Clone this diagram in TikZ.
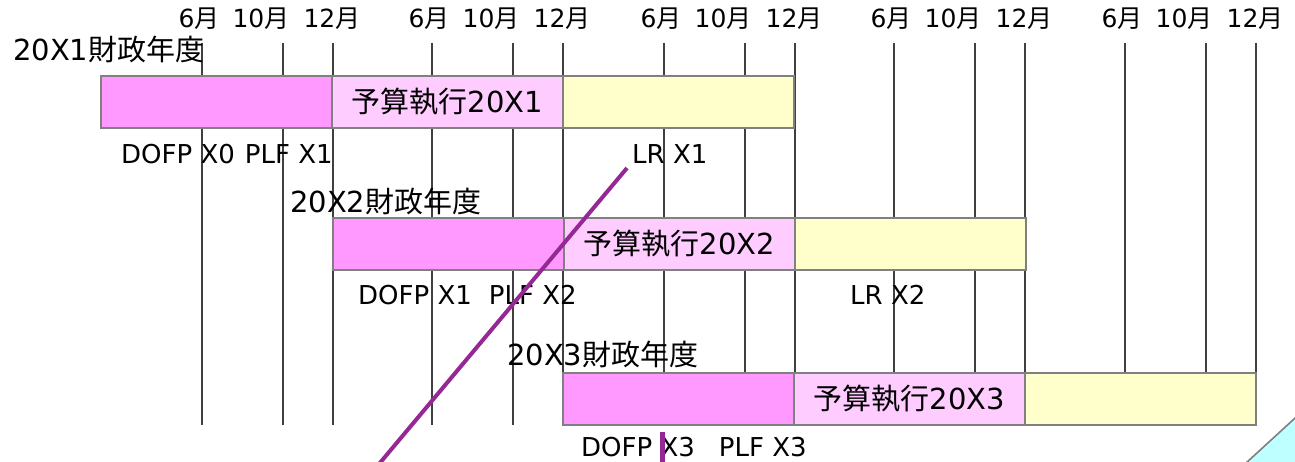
\documentclass[tikz,border=0pt]{standalone}
\usepackage{fontspec}
\setmainfont{DejaVu Sans}
\newfontfamily\jpfont{Noto Sans CJK JP}
\newcommand\jp[1]{{\jpfont #1}}
\usetikzlibrary{positioning}
\definecolor{prepink}{RGB}{255,153,255}
\definecolor{execpink}{RGB}{255,204,255}
\definecolor{lrcream}{RGB}{255,255,204}
\definecolor{cutpurple}{RGB}{150,40,150}
\definecolor{cornercyan}{RGB}{190,255,255}

\begin{document}
\begin{tikzpicture}[x=1pt, y=-1pt,
    gridline/.style={draw=black!75, line width=1.6pt},
    bar/.style={draw=black!50, line width=1.6pt, minimum width=231pt, minimum height=52pt, inner sep=0pt, outer sep=0pt, font=\fontsize{29}{29}\selectfont},
    prep/.style={bar, fill=prepink},
    exec/.style={bar, fill=execpink},
    lr/.style={bar, fill=lrcream},
    month/.style={inner sep=0pt, font=\fontsize{25}{25}\selectfont},
    yearlbl/.style={anchor=west, inner sep=0pt, font=\fontsize{29}{29}\selectfont},
    doclbl/.style={anchor=west, inner sep=0pt, font=\fontsize{26}{26}\selectfont},
    cutline/.style={draw=cutpurple, line width=4pt}]

    \useasboundingbox (0,0) rectangle (1295,462);

    \foreach \e in {333,563,795,1025,1256} {
        \draw[gridline] (\e-131,43) -- (\e-131,425);
        \draw[gridline] (\e-50,43) -- (\e-50,425);
        \draw[gridline] (\e,43) -- (\e,425);
        \node[month] at (\e-134,19) {6\jp{月}};
        \node[month] at (\e-72,19) {10\jp{月}};
        \node[month] at (\e-1,19) {12\jp{月}};
    }

    \node[prep, anchor=north west] (fy1prep) at (101,76) {};
    \node[exec, right=0pt of fy1prep] (fy1exec) {\jp{予算執行}20X1};
    \node[lr, right=0pt of fy1exec] (fy1lr) {};

    \node[prep, anchor=north west] (fy2prep) at (333,218) {};
    \node[exec, right=0pt of fy2prep] (fy2exec) {\jp{予算執行}20X2};
    \node[lr, right=0pt of fy2exec] (fy2lr) {};

    \node[prep, anchor=north west] (fy3prep) at (563,373) {};
    \node[exec, right=0pt of fy3prep] (fy3exec) {\jp{予算執行}20X3};
    \node[lr, right=0pt of fy3exec] (fy3lr) {};

    \node[yearlbl] (fy1) at (13,49) {20X1\jp{財政年度}};
    \node[yearlbl] (fy2) at (290,201) {20X2\jp{財政年度}};
    \node[yearlbl] (fy3) at (507,354) {20X3\jp{財政年度}};

    \node[doclbl] (doc1) at (121,154) {DOFP X0\hspace{10pt}PLF X1};
    \node[doclbl] (lr1) at (632,154) {LR X1};
    \node[doclbl] (doc2) at (358,295) {DOFP X1\hspace{17pt}PLF X2};
    \node[doclbl] (lr2) at (850,295) {LR X2};
    \node[doclbl] (doc3) at (581,447) {DOFP X3\hspace{24pt}PLF X3};

    \coordinate (cut1a) at (627,168);
    \coordinate (cut1b) at (374,470);
    \coordinate (cut2a) at (662,432);
    \coordinate (cut2b) at (662,470);
    \draw[cutline] (cut1a) -- (cut1b);
    \draw[cutline, line width=5pt] (cut2a) -- (cut2b);

    \coordinate (corner1) at (1240,468.5);
    \coordinate (corner2) at (1300,413.5);
    \coordinate (corner3) at (1300,468.5);
    \draw[draw=black!50, line width=1.6pt, fill=cornercyan] (corner1) -- (corner2) -- (corner3) -- cycle;
\end{tikzpicture}
\end{document}
